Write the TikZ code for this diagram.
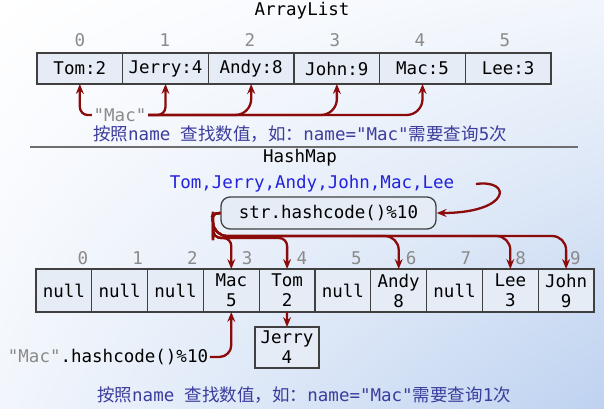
\documentclass[tikz,border=0pt]{standalone}
\usepackage{fontspec}
\setmonofont{DejaVu Sans Mono}
\newfontfamily\cjk{Noto Sans CJK SC}
\definecolor{hmred}{RGB}{139,10,10}
\definecolor{hmcell}{RGB}{230,236,246}
\definecolor{hmgray}{RGB}{138,138,138}
\definecolor{hmline}{RGB}{64,64,64}
\definecolor{hmblue}{RGB}{34,34,221}
\definecolor{hmnote}{RGB}{60,60,156}
\definecolor{hmbg}{RGB}{190,210,240}
\usetikzlibrary{arrows.meta,positioning,shadings}

\begin{document}
\begin{tikzpicture}[x=1pt,y=-1pt,
  every node/.style={font=\ttfamily\fontsize{17.5}{20}\selectfont,inner sep=1.5pt},
  cell/.style={draw=hmline,line width=1.3pt,fill=hmcell,inner sep=0pt,outer sep=0pt,align=center},
  acell/.style={cell,minimum width=85.7pt,minimum height=31pt},
  hcell/.style={cell,minimum width=55.8pt,minimum height=43pt},
  idx/.style={text=hmgray},
  note/.style={text=hmnote},
  arr/.style={-{Stealth[length=10pt,width=8pt,inset=3.5pt]},line width=2.3pt,hmred,rounded corners=8pt}
]
  % background
  \useasboundingbox (0,0) rectangle (604,408);
  \shade[upper left=white,upper right=hmbg!20!white,lower left=hmbg!20!white,lower right=hmbg] (0,0) rectangle (604,408);

  % ArrayList
  \node (atitle) at (302,11) {ArrayList};
  \foreach \i in {0,...,5}
    \node[idx] (ai\i) at ({80+85*\i},40) {\i};
  \foreach \t [count=\i from 0] in {Tom:2,Jerry:4,Andy:8,John:9,Mac:5,Lee:3}
    \node[acell] (a\i) at ({37+85.67*(\i+0.5)},68.5) {\t};
  \node[idx] (akey) at (120,115) {"Mac"};
  \node[note] (anote) at (300,134) {{\cjk 按照}name {\cjk 查找数值，如：}name="Mac"{\cjk 需要查询}5{\cjk 次}};

  \draw[arr] (akey.west) -| (a0.south);
  \draw[arr] (akey.east) -| (a1.south);
  \foreach \i in {2,...,4}
    \draw[arr,rounded corners=16pt] (akey.east) -| (a\i.south);

  % separator
  \draw[hmgray!80!black,line width=1.5pt] (30,147) -- (578,147);

  % HashMap
  \node (htitle) at (300,158) {HashMap};
  \node[text=hmblue] (hlist) at (312,184) {Tom,Jerry,Andy,John,Mac,Lee};
  \node[draw=hmline,line width=1.3pt,fill=hmcell,rounded corners=9pt,minimum width=215pt,minimum height=32pt] (hfun) at (328.5,213) {str.hashcode()\%10};
  \foreach \i in {0,...,9}
    \node[idx] (hi\i) at ({83+54.7*\i},258) {\i};
  \foreach \t [count=\i from 0] in {null,null,null,{Mac\\5},{Tom\\2},null,{Andy\\8},null,{Lee\\3},{John\\9}}
    \node[hcell] (h\i) at ({36+55.8*(\i+0.5)},290.5) {\t};
  \node[cell,minimum width=64pt,minimum height=41pt] (jerry) at (287,347.5) {Jerry\\4};
  \node (hkey) at (108,357) {\textcolor{hmgray}{"Mac"}.hashcode()\%10};
  \node[note] (hnote) at (304,395) {{\cjk 按照}name {\cjk 查找数值，如：}name="Mac"{\cjk 需要查询}1{\cjk 次}};

  \draw[arr] ([xshift=20pt]hlist.east) .. controls +(37,-5) and +(74,0) .. (hfun.east);
  \foreach \c in {3,4}
    \draw[arr] (hfun.west) .. controls (209,213) and (213,222) .. (213,230) -- (213,238) -| (h\c.north);
  \foreach \c in {6,8,9}
    \draw[arr,rounded corners=14pt] (hfun.west) .. controls (209,213) and (213,222) .. (213,226) -- (213,236) -| (h\c.north);
  \draw[arr,rounded corners=12pt] (hkey.east) -| (h3.south);
  \draw[arr] (h4.south) -- (jerry.north);
\end{tikzpicture}
\end{document}
